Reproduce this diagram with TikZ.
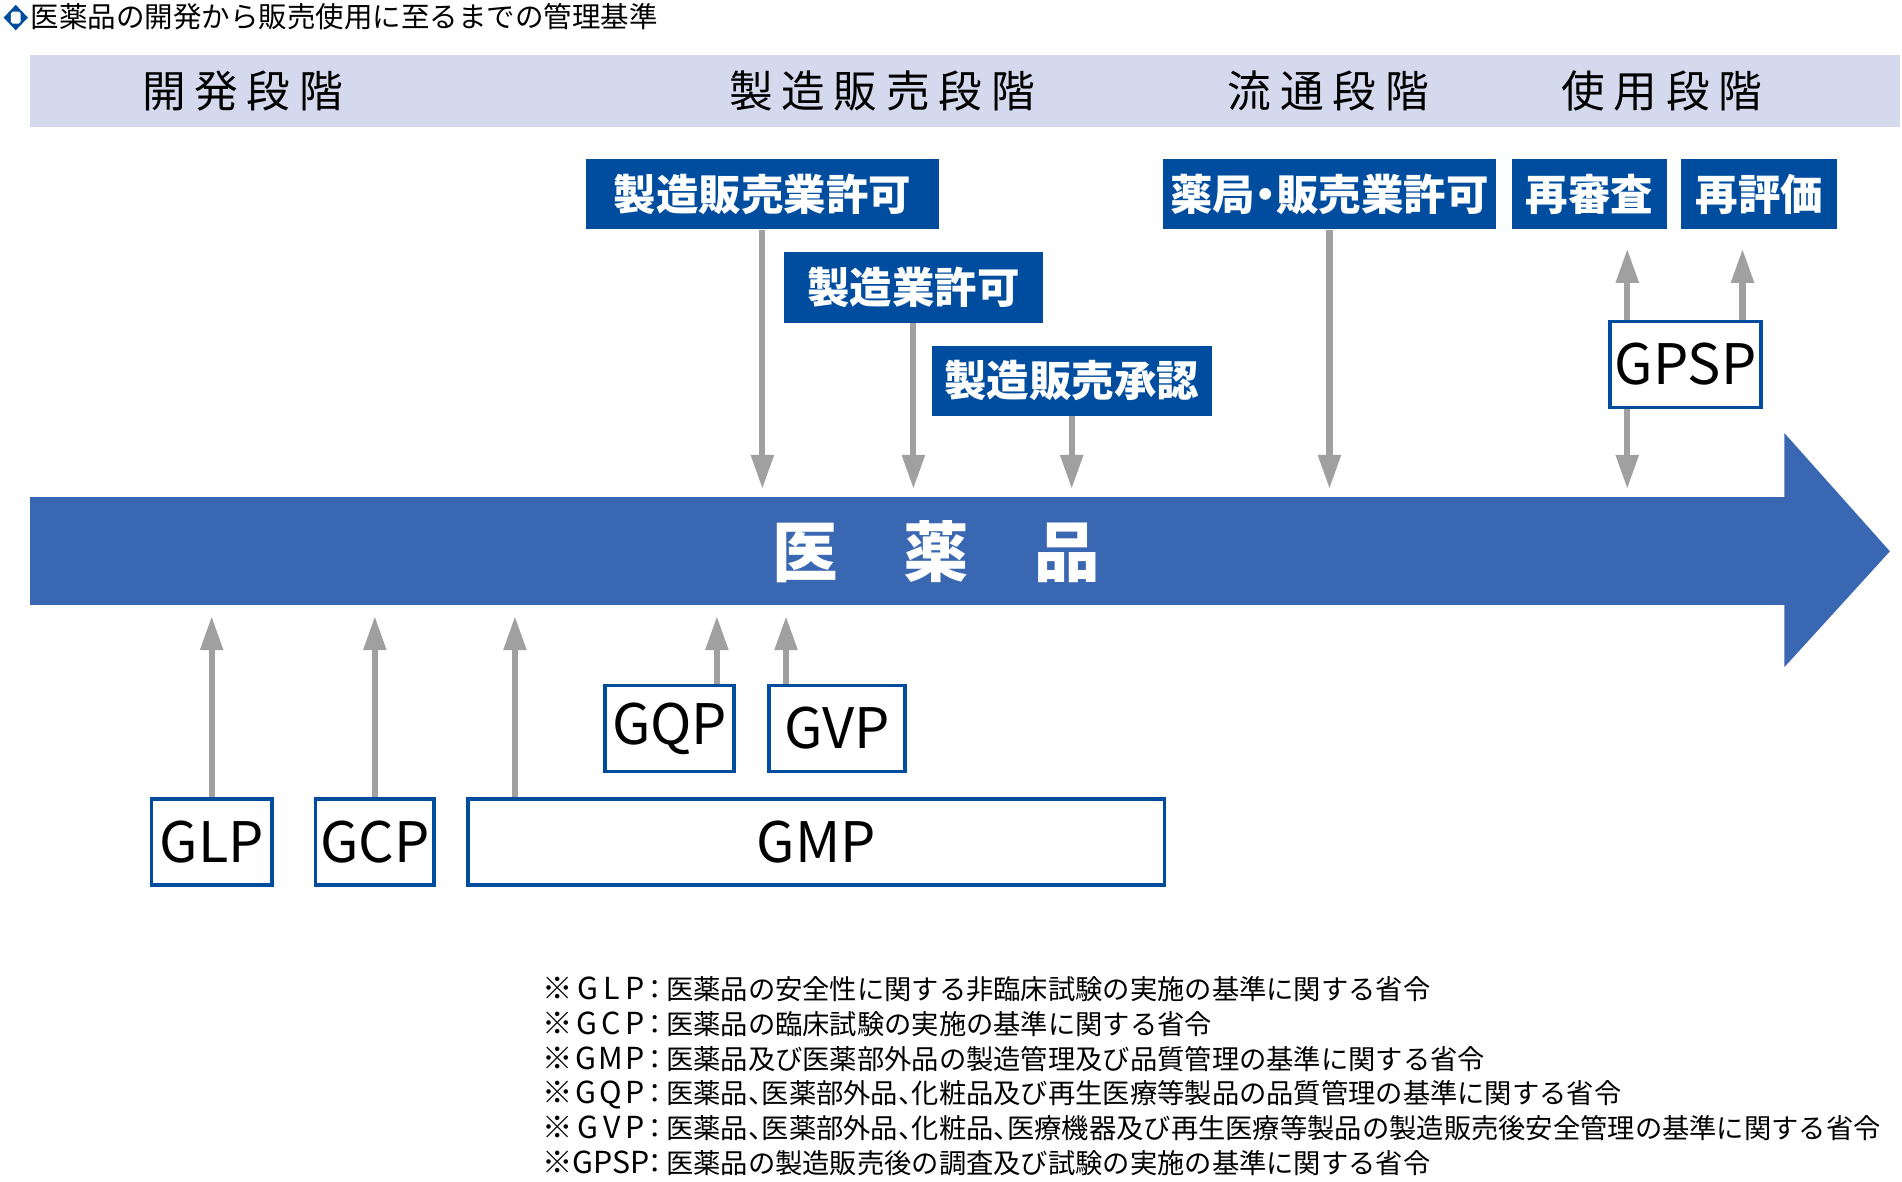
\documentclass[tikz,border=0pt]{standalone}
\usepackage{fontspec}
\setmainfont{Noto Sans CJK JP}
\newfontfamily\headfont[LetterSpace=20]{Noto Sans CJK JP}
\newfontfamily\notefont[RawFeature=+halt]{Noto Sans CJK JP}
\newfontfamily\permitfont[RawFeature=+halt]{Noto Sans CJK JP}
\usetikzlibrary{positioning, calc, arrows.meta}

\definecolor{bandfill}{HTML}{D4D9EE}
\definecolor{permitblue}{HTML}{004DA0}
\definecolor{flowblue}{HTML}{3A67B1}
\definecolor{arrowgray}{HTML}{A0A0A0}

% key of a footnote line, justified to one width
\newcommand{\notehead}[1]{\makebox[84pt][s]{\fontsize{25}{28.6}\selectfont ※\hfill #1}\makebox[18pt]{：}}

\begin{document}
\begin{tikzpicture}[
  x=1pt, y=-1pt,
  permit/.style={rectangle, fill=permitblue, text=white, inner sep=0pt, minimum height=58pt, font=\permitfont\bfseries\fontsize{35}{35}\selectfont},
  gbox/.style={rectangle, draw=permitblue, line width=3pt, fill=white, inner sep=0pt, minimum height=71pt, font=\fontsize{46}{46}\selectfont},
  stage/.style={font=\headfont\fontsize{36}{36}\selectfont},
  arrow/.style={draw=arrowgray, line width=5pt, -{Triangle[length=28pt, width=18pt]}}
]
\useasboundingbox (0,0) rectangle (1568,974);

%------------------------------------------------
% Title
%------------------------------------------------
\fill[permitblue] (13,4) -- (23,14.5) -- (13,25) -- (3,14.5) -- cycle;
\fill[white, rounded corners=1.5pt] (9,9.5) rectangle (17,19.5);
\node[anchor=west, inner sep=0pt, font=\fontsize{23.5}{23.5}\selectfont] (title) at (25,14) {医薬品の開発から販売使用に至るまでの管理基準};

%------------------------------------------------
% Stages
%------------------------------------------------
\fill[bandfill] (25,45) rectangle (1566,105);
\node[stage] (dev) at (200,75) {開発段階};
\node[stage] (mfgstage) at (727,75) {製造販売段階};
\node[stage] (diststage) at (1095,75) {流通段階};
\node[stage] (usestage) at (1370,75) {使用段階};

%------------------------------------------------
% Permits and approvals
%------------------------------------------------
\node[permit, minimum width=291pt] (mfgsales) at (628.5,160) {製造販売業許可};
\node[permit, minimum width=214pt] (mfg) at (753,237) {製造業許可};
\node[permit, minimum width=231pt] (approval) at (883.5,314) {製造販売承認};
\node[permit, minimum width=274pt] (pharmacy) at (1096,160) {薬局・販売業許可};
\node[permit, minimum width=128pt, right=13pt of pharmacy] (reexam) {再審査};
\node[permit, minimum width=129pt, right=11pt of reexam] (reeval) {再評価};

\node[gbox, minimum width=125pt] (gpsp) at (1389.5,300.5) {GPSP};

%------------------------------------------------
% Drug arrow
%------------------------------------------------
\node[fill=flowblue, inner sep=0pt, outer sep=0pt, minimum width=1447pt, minimum height=89pt] (bar) at (748.5,454.5) {};
\fill[flowblue] ($(bar.north east)+(-1,-53)$) -- (1558,454.5) -- ($(bar.south east)+(-1,51)$) -- cycle;
\node[text=white, font=\bfseries\fontsize{54}{54}\selectfont] (drug) at (772,455) {医\hspace{54pt}薬\hspace{54pt}品};

%------------------------------------------------
% Standards
%------------------------------------------------
\node[gbox, minimum width=99pt] (glp) at (174.5,694) {GLP};
\node[gbox, minimum width=98pt, right=33pt of glp] (gcp) {GCP};
\node[gbox, minimum width=574pt, right=25pt of gcp] (gmp) {GMP};
\node[gbox, minimum width=106pt] (gqp) at (552,600.5) {GQP};
\node[gbox, minimum width=112pt, right=26pt of gqp] (gvp) {GVP};

% Arrows down to the drug
\draw[arrow, shorten >=7pt] (mfgsales.south) -- (mfgsales.south |- bar.north);
\draw[arrow, shorten >=7pt] (mfg.south) -- (mfg.south |- bar.north);
\draw[arrow, shorten >=7pt] (approval.south) -- (approval.south |- bar.north);
\draw[arrow, shorten >=7pt] (pharmacy.south) -- (pharmacy.south |- bar.north);

% GPSP arrows
\coordinate (gpspL) at ($(gpsp.north west)+(16,0)$);
\coordinate (gpspR) at ($(gpsp.north east)+(-17,0)$);
\draw[arrow, shorten >=16pt] (gpspL) -- (gpspL |- reexam.south);
\draw[arrow, shorten >=16pt] (gpspR) -- (gpspR |- reeval.south);
\draw[arrow, shorten >=7pt] (gpspL |- gpsp.south) -- (gpspL |- bar.north);

% Arrows up to the drug
\coordinate (gmpL) at ($(gmp.north west)+(40,0)$);
\coordinate (gqpR) at ($(gqp.north)+(39,0)$);
\coordinate (gvpL) at ($(gvp.north)+(-42,0)$);
\draw[arrow, shorten >=9pt] (glp.north) -- (glp.north |- bar.south);
\draw[arrow, shorten >=9pt] (gcp.north) -- (gcp.north |- bar.south);
\draw[arrow, shorten >=9pt] (gmpL) -- (gmpL |- bar.south);
\draw[arrow, shorten >=9pt] (gqpR) -- (gqpR |- bar.south);
\draw[arrow, shorten >=9pt] (gvpL) -- (gvpL |- bar.south);

%------------------------------------------------
% Notes
%------------------------------------------------
\node[anchor=north west, align=left, inner sep=0pt, font=\notefont\fontsize{22.5}{28.6}\selectfont] (notes) at (447,805) {%
\notehead{G\hfill L\hfill P}医薬品の安全性に関する非臨床試験の実施の基準に関する省令\\
\notehead{G\hfill C\hfill P}医薬品の臨床試験の実施の基準に関する省令\\
\notehead{G\hfill M\hfill P}医薬品及び医薬部外品の製造管理及び品質管理の基準に関する省令\\
\notehead{G\hfill Q\hfill P}医薬品、医薬部外品、化粧品及び再生医療等製品の品質管理の基準に関する省令\\
\notehead{G\hfill V\hfill P}医薬品、医薬部外品、化粧品、医療機器及び再生医療等製品の製造販売後安全管理の基準に関する省令\\
\notehead{G\hfill P\hfill S\hfill P}医薬品の製造販売後の調査及び試験の実施の基準に関する省令};

\end{tikzpicture}
\end{document}
